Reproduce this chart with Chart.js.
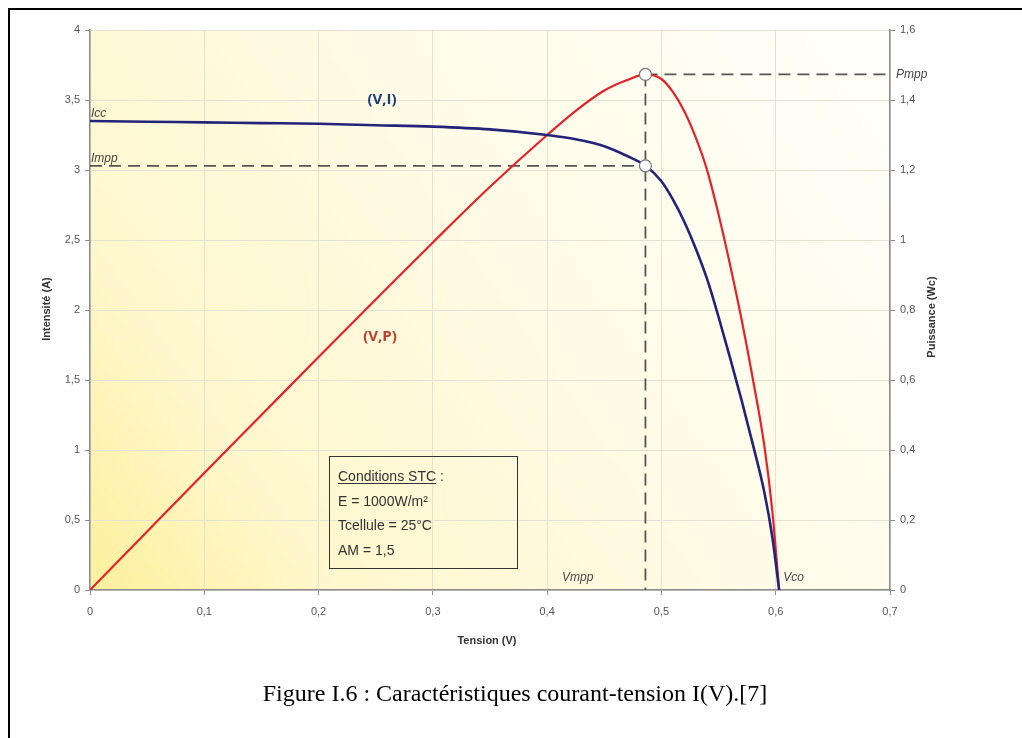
<!DOCTYPE html>
<html>
<head>
<meta charset="utf-8">
<title>Caractéristiques courant-tension</title>
<script src="https://cdn.jsdelivr.net/npm/chart.js@4.4.1/dist/chart.umd.min.js"></script>
<style>
  html, body { margin: 0; padding: 0; background: #fff; }
  canvas { display: block; }
</style>
</head>
<body>
<canvas id="ivChart" width="1022" height="738"></canvas>
<script>
// valeurs
const tension   = [0, 0.05, 0.1, 0.15, 0.2, 0.25, 0.3, 0.35, 0.4, 0.425, 0.45, 0.47, 0.486, 0.5, 0.51, 0.52, 0.53, 0.54, 0.55, 0.56, 0.57, 0.58, 0.59, 0.597, 0.603];
const intensite = [3.35, 3.345, 3.34, 3.335, 3.33, 3.32, 3.31, 3.29, 3.25, 3.22, 3.17, 3.10, 3.03, 2.92, 2.79, 2.63, 2.44, 2.22, 1.95, 1.66, 1.36, 1.04, 0.70, 0.38, 0];
const puissance = [0, 0.167, 0.334, 0.500, 0.666, 0.830, 0.993, 1.152, 1.300, 1.369, 1.427, 1.457, 1.473, 1.460, 1.423, 1.368, 1.293, 1.199, 1.073, 0.930, 0.775, 0.603, 0.413, 0.227, 0];

// point de puissance maximale
const vMpp = 0.486;
const iMpp = 3.03;
const pMpp = 1.473;

// graduations
const xTicks = [0, 0.1, 0.2, 0.3, 0.4, 0.5, 0.6, 0.7];
const yTicks = [0, 0.5, 1, 1.5, 2, 2.5, 3, 3.5, 4];
const y2Ticks = [0, 0.2, 0.4, 0.6, 0.8, 1, 1.2, 1.4, 1.6];

const tickFont = { family: "'Liberation Sans Narrow', 'Liberation Sans', Arial, sans-serif", size: 11 };
const fmt = v => String(Number(v.toFixed(2))).replace('.', ',');

const dash = { borderColor: '#555', borderWidth: 1.8, borderDash: [12, 7], pointRadius: 0, showLine: true, fill: false, order: 3 };

// fond, cadre et textes
const decor = {
  id: 'decor',
  beforeDraw(chart) {
    const { ctx, chartArea: a } = chart;
    ctx.save();
    ctx.fillStyle = '#fff';
    ctx.fillRect(0, 0, chart.width, chart.height);
    const g = ctx.createLinearGradient(a.left, a.bottom, a.right, a.top);
    g.addColorStop(0, '#fdf09c');
    g.addColorStop(0.2, '#fff7cc');
    g.addColorStop(0.55, '#fffbe6');
    g.addColorStop(1, '#fffffa');
    ctx.fillStyle = g;
    ctx.fillRect(a.left, a.top, a.right - a.left, a.bottom - a.top);
    ctx.restore();
  },
  afterDraw(chart) {
    const { ctx } = chart;
    const x = chart.scales.x, y = chart.scales.y, y2 = chart.scales.y2;
    ctx.save();

    // cadre de la figure
    ctx.strokeStyle = '#000';
    ctx.lineWidth = 2;
    ctx.strokeRect(9, 9, 1030, 740);

    // titres des axes
    ctx.fillStyle = '#333';
    ctx.font = "bold 11px 'Liberation Sans Narrow', 'Liberation Sans', Arial, sans-serif";
    ctx.textAlign = 'center';
    ctx.textBaseline = 'middle';
    ctx.fillText('Tension (V)', 487, 641);
    ctx.save();
    ctx.translate(47, 309);
    ctx.rotate(-Math.PI / 2);
    ctx.fillText('Intensité (A)', 0, 0);
    ctx.restore();
    ctx.save();
    ctx.translate(932, 317);
    ctx.rotate(-Math.PI / 2);
    ctx.fillText('Puissance (Wc)', 0, 0);
    ctx.restore();

    // annotations en italique
    ctx.fillStyle = '#444';
    ctx.font = "italic 12px 'Liberation Sans', Arial, sans-serif";
    ctx.textAlign = 'left';
    ctx.textBaseline = 'alphabetic';
    ctx.fillText('Icc', x.left + 1, y.getPixelForValue(intensite[0]) - 4);
    ctx.fillText('Impp', x.left + 1, y.getPixelForValue(iMpp) - 4);
    ctx.textBaseline = 'middle';
    ctx.fillText('Pmpp', x.right + 6, y2.getPixelForValue(pMpp));
    ctx.textBaseline = 'alphabetic';
    ctx.fillText('Vmpp', 562, 581);
    ctx.fillText('Vco', x.getPixelForValue(tension[tension.length - 1]) + 4, 581);

    // noms des courbes
    ctx.font = "bold 15px 'Open Sans', 'Liberation Sans', sans-serif";
    ctx.textAlign = 'center';
    ctx.textBaseline = 'middle';
    ctx.fillStyle = '#1f3b78';
    ctx.fillText('(V,I)', 382, 100);
    ctx.fillStyle = '#c0392b';
    ctx.fillText('(V,P)', 380, 337);

    // encadré des conditions STC
    ctx.strokeStyle = '#333';
    ctx.lineWidth = 1;
    ctx.strokeRect(329.5, 456.5, 188, 112);
    ctx.fillStyle = '#333';
    ctx.font = "14px 'Liberation Sans', Arial, sans-serif";
    ctx.textAlign = 'left';
    ctx.textBaseline = 'alphabetic';
    const lines = ['Conditions STC :', 'E = 1000W/m²', 'Tcellule = 25°C', 'AM = 1,5'];
    lines.forEach((t, i) => ctx.fillText(t, 338, 481 + i * 24.5));
    const w = ctx.measureText('Conditions STC').width;
    ctx.fillRect(338, 483, w, 1);

    // légende de la figure
    ctx.fillStyle = '#000';
    ctx.font = "24px 'Liberation Serif', 'Times New Roman', serif";
    ctx.textAlign = 'center';
    ctx.fillText('Figure I.6 : Caractéristiques courant-tension I(V).[7]', 515, 701);
    ctx.restore();
  }
};

const ctx = document.getElementById('ivChart').getContext('2d');
new Chart(ctx, {
  type: 'scatter',
  data: {
    datasets: [
      {
        label: 'MPP',
        data: [{ x: vMpp, y: iMpp }],
        yAxisID: 'y',
        pointRadius: 6, pointBackgroundColor: '#fff', pointBorderColor: '#777', pointBorderWidth: 1.2,
        order: 0
      },
      {
        label: 'Pmpp',
        data: [{ x: vMpp, y: pMpp }],
        yAxisID: 'y2',
        pointRadius: 6, pointBackgroundColor: '#fff', pointBorderColor: '#777', pointBorderWidth: 1.2,
        order: 0
      },
      {
        label: '(V,I)',
        data: tension.map((v, i) => ({ x: v, y: intensite[i] })),
        yAxisID: 'y',
        showLine: true, borderColor: '#23237a', borderWidth: 2.6, pointRadius: 0,
        cubicInterpolationMode: 'monotone', order: 1
      },
      {
        label: '(V,P)',
        data: tension.map((v, i) => ({ x: v, y: puissance[i] })),
        yAxisID: 'y2',
        showLine: true, borderColor: '#e3222b', borderWidth: 2.2, pointRadius: 0,
        cubicInterpolationMode: 'monotone', order: 2
      },
      Object.assign({ label: 'Impp', yAxisID: 'y', data: [{ x: 0, y: iMpp }, { x: vMpp, y: iMpp }] }, dash),
      Object.assign({ label: 'Vmpp', yAxisID: 'y2', data: [{ x: vMpp, y: pMpp }, { x: vMpp, y: 0 }] }, dash),
      Object.assign({ label: 'Pmpp line', yAxisID: 'y2', data: [{ x: vMpp, y: pMpp }, { x: 0.7, y: pMpp }] }, dash)
    ]
  },
  options: {
    responsive: false,
    animation: false,
    layout: { padding: { top: 30, left: 0, right: 0, bottom: 0 } },
    plugins: { legend: { display: false }, tooltip: { enabled: false } },
    scales: {
      x: {
        type: 'linear', min: 0, max: 0.7, position: 'bottom',
        afterBuildTicks: s => { s.ticks = xTicks.map(v => ({ value: v })); },
        afterFit: s => { s.height = 148; },
        grid: { color: '#e4e2d2', tickColor: '#8c8c8c', tickLength: 5 },
        border: { color: '#8c8c8c', width: 1.5 },
        ticks: { font: tickFont, color: '#555', padding: 10, maxRotation: 0, callback: fmt }
      },
      y: {
        type: 'linear', min: 0, max: 4, position: 'left',
        afterBuildTicks: s => { s.ticks = yTicks.map(v => ({ value: v })); },
        afterFit: s => { s.width = 90; },
        grid: { color: '#e4e2d2', tickColor: '#8c8c8c', tickLength: 5 },
        border: { color: '#8c8c8c', width: 1.5 },
        ticks: { font: tickFont, color: '#555', padding: 5, callback: fmt }
      },
      y2: {
        type: 'linear', min: 0, max: 1.6, position: 'right',
        afterBuildTicks: s => { s.ticks = y2Ticks.map(v => ({ value: v })); },
        afterFit: s => { s.width = 132; },
        grid: { drawOnChartArea: false, tickColor: '#8c8c8c', tickLength: 5 },
        border: { color: '#8c8c8c', width: 1.5 },
        ticks: { font: tickFont, color: '#555', padding: 5, callback: fmt }
      }
    }
  },
  plugins: [decor]
});
</script>
</body>
</html>
